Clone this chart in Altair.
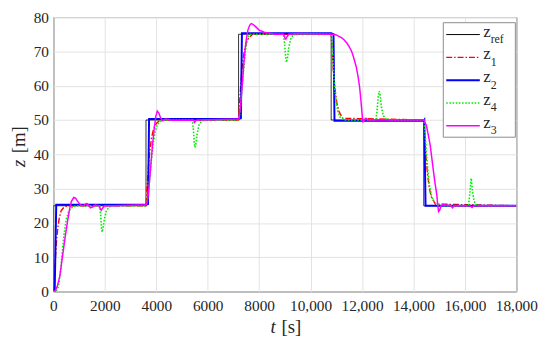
import altair as alt
import pandas as pd

# ---------------- data ----------------
ref_t = [0, 0, 3600, 3600, 7200, 7200, 10800, 10800, 14400, 14400, 18000]
ref_z = [0, 25, 25, 50, 50, 75, 75, 50, 50, 25, 25]

z1_t = [0, 40, 80, 120, 170, 230, 300, 400, 550, 3600, 3640, 3690, 3750, 3820, 3900, 4000, 4150,
        7200, 7240, 7290, 7350, 7420, 7500, 7600, 7750, 10800, 10840, 10890, 10950, 11020, 11100, 11250,
        14400, 14440, 14490, 14550, 14620, 14700, 14850, 18000]
z1_z = [0, 5, 10, 14.5, 18.5, 21.5, 23.5, 24.5, 25, 25, 30, 36, 41, 45, 47.5, 49, 50,
        50, 55, 61, 66, 70, 72.5, 74, 75, 75, 70, 64, 59, 55, 52.5, 50.5,
        50, 45, 39, 34, 30, 27.5, 25.5, 25]

z2_t = [0, 50, 110, 3600, 3680, 3720, 7200, 7290, 7330, 10800, 10890, 10930, 14400, 14420, 14470, 18000]
z2_z = [0, 0, 25.3, 25.3, 25.5, 50.3, 50.3, 50.5, 75.3, 75.3, 75, 49.8, 49.8, 50, 25, 25]

z4_t = [0, 100, 200, 280, 350, 420, 500, 600, 750, 900, 1800, 1840, 1870, 1895, 1930, 1980, 2050, 2150, 2300,
        3600, 3650, 3720, 3800, 3880, 3960, 4050, 4200, 4400, 5400, 5440, 5470, 5500, 5540, 5590, 5660, 5760, 5900,
        7200, 7250, 7320, 7400, 7470, 7550, 7650, 8950, 8990, 9030, 9060, 9100, 9150, 9220, 9320, 9450,
        10800, 10840, 10880, 10930, 10990, 11060, 11150, 11300, 12540, 12590, 12630, 12670, 12710, 12760, 12830, 12950, 13100,
        14400, 14440, 14490, 14550, 14620, 14700, 14800, 14950, 15100, 16140, 16190, 16245, 16300, 16360, 16450, 16600, 18000]
z4_z = [0, 0, 1.5, 6, 12, 17, 21, 23.5, 24.7, 25, 25, 22, 18.5, 17.3, 18.5, 21, 23.3, 24.6, 25,
        25, 26.5, 31, 37.5, 43, 46.8, 48.8, 49.8, 50, 50, 47.5, 44, 42, 43, 46, 48.5, 49.7, 50,
        50, 52, 58, 65, 70.5, 74, 75, 75, 72, 68.5, 66.8, 68, 71, 73.5, 74.8, 75,
        75, 72, 66, 60, 55.5, 52.5, 50.8, 50, 50, 53, 57, 58.4, 57, 53.5, 51.2, 50.2, 50,
        50, 47.5, 42, 36, 31, 28, 26, 25.2, 25, 25, 28.5, 33, 29, 26.3, 25.2, 25, 25]

z3_t = [0, 80, 150, 250, 350, 450, 550, 630, 700, 790, 860, 950, 1050, 1150, 1250, 1310, 1370, 1440, 1520, 1620,
        1760, 1820, 1860, 1900, 1980, 2300, 3600,
        3650, 3700, 3780, 3850, 3920, 3980, 4040, 4100, 4170, 4250, 4350, 4450, 4600, 5450, 5490, 5540, 5600,
        7200, 7260, 7330, 7430, 7500, 7563, 7630, 7690, 7760, 7850, 8000, 8200, 8400, 8600, 8950, 9000, 9040, 9080, 9150, 9500,
        10800, 10900, 11000, 11100, 11200, 11300, 11400, 11500, 11586, 11650, 11720, 11778, 11850, 11905, 11960, 12008, 12040,
        12080, 12150, 12250, 14400,
        14500, 14580, 14651, 14720, 14778, 14840, 14904, 14940, 14975, 15010, 15070, 15150, 15250, 15450, 15520, 15580,
        16200, 16280, 16340, 18000]
z3_z = [0, 0.3, 1.5, 4.5, 10, 15.5, 20.5, 24, 26.3, 27.4, 27.2, 26.2, 25.2, 25, 25.5, 25.6, 25.1, 24.4, 24.6, 25.2,
        25, 24.2, 23.7, 24.2, 25, 25, 25.3,
        26, 29, 36, 42.5, 47.5, 51, 52.6, 52, 50.6, 49.8, 50.3, 50.2, 49.9, 50, 49.3, 49.9, 50,
        50.3, 53, 59, 69, 73.5, 76.2, 77.6, 78.1, 77.9, 77.3, 76.2, 75.6, 75.3, 75, 75, 74, 73.6, 74.2, 75, 75.2,
        75, 75, 74.8, 74.4, 74, 73.4, 72.5, 71.4, 70.2, 68.8, 67, 65.4, 62.5, 59.7, 55.5, 51.2, 49.5,
        49.8, 50.5, 50, 50,
        48.5, 45.5, 42.6, 38.5, 35, 31.5, 28.4, 25.5, 23.3, 23.6, 24.8, 25.4, 25.2, 25, 24.4, 25,
        25, 24.5, 25, 25]

x_ticks = [0, 2000, 4000, 6000, 8000, 10000, 12000, 14000, 16000, 18000]
y_ticks = [0, 10, 20, 30, 40, 50, 60, 70, 80]

# name, legend sub-label, t, z, color, dash, width  (drawing order)
series = [
    ("ref", "ref", ref_t, ref_z, "#000000", [], 0.8),
    ("z1", "1", z1_t, z1_z, "#ff0000", [6, 2, 1.5, 2], 1.4),
    ("z2", "2", z2_t, z2_z, "#0000ff", [], 2.0),
    ("z4", "4", z4_t, z4_z, "#00ee00", [1.6, 1.6], 1.6),
    ("z3", "3", z3_t, z3_z, "#ff00ff", [], 1.5),
]

SERIF = "Liberation Serif"
TXT = "#262626"

x_enc = alt.X("t:Q", scale=alt.Scale(domain=[0, 18000], nice=False, zero=False),
              axis=alt.Axis(values=x_ticks, title=None, labelPadding=7, labelOverlap=False,
                            labelFlush=False, labelFont=SERIF, labelFontSize=15.5, labelColor=TXT,
                            labelExpr="datum.value >= 10000 ? format(datum.value, ',') : format(datum.value, 'd')"))
y_enc = alt.Y("z:Q", scale=alt.Scale(domain=[0, 80], nice=False),
              axis=alt.Axis(values=y_ticks, title=None, labelPadding=5, labelOverlap=False,
                            labelFlush=False, labelFont=SERIF, labelFontSize=15.5, labelColor=TXT))

layers = []
for name, sub, t, z, col, dash, w in series:
    df = pd.DataFrame({"t": t, "z": z, "i": range(len(t))})
    mk = dict(color=col, strokeWidth=w, clip=True)
    if dash:
        mk["strokeDash"] = dash
    layers.append(alt.Chart(df).mark_line(**mk).encode(x=x_enc, y=y_enc, order="i:Q"))

one = pd.DataFrame({"a": [0]})

# legend box
layers.append(alt.Chart(one).mark_rect(fill="white", stroke="#8c8c8c", strokeWidth=1).encode(
    x=alt.value(395), x2=alt.value(468), y=alt.value(5.7), y2=alt.value(121.7)))
ly0, dly = 17.7, 23.1
for k, (name, sub, t, z, col, dash, w) in enumerate(series):
    yy = ly0 + k * dly
    mk = dict(color=col, strokeWidth=max(w, 1.0))
    if dash:
        mk["strokeDash"] = dash
    layers.append(alt.Chart(one).mark_rule(**mk).encode(
        x=alt.value(398), x2=alt.value(432), y=alt.value(yy)))
    layers.append(alt.Chart(one).mark_text(font=SERIF, fontSize=17, color=TXT, align="left",
                                           baseline="alphabetic").encode(
        x=alt.value(435.5), y=alt.value(yy + 2), text=alt.value("z")))
    layers.append(alt.Chart(one).mark_text(font=SERIF, fontSize=12, color=TXT, align="left",
                                           baseline="alphabetic").encode(
        x=alt.value(443), y=alt.value(yy + 8.5), text=alt.value(sub)))

# axis titles
layers.append(alt.Chart(one).mark_text(font=SERIF, fontSize=19, fontStyle="italic", color=TXT,
                                       align="center", baseline="alphabetic").encode(
    x=alt.value(222.7), y=alt.value(320), text=alt.value("t")))
layers.append(alt.Chart(one).mark_text(font=SERIF, fontSize=19, color=TXT,
                                       align="left", baseline="alphabetic").encode(
    x=alt.value(231), y=alt.value(320), text=alt.value("[s]")))
layers.append(alt.Chart(one).mark_text(font=SERIF, fontSize=19, fontStyle="italic", color=TXT,
                                       align="center", baseline="alphabetic", angle=270).encode(
    x=alt.value(-29), y=alt.value(148.3), text=alt.value("z")))
layers.append(alt.Chart(one).mark_text(font=SERIF, fontSize=19, color=TXT,
                                       align="left", baseline="alphabetic", angle=270).encode(
    x=alt.value(-29), y=alt.value(138), text=alt.value("[m]")))

chart = alt.layer(*layers).properties(
    width=469, height=278,
    autosize=alt.AutoSizeParams(type="none"),
    padding={"left": 46, "top": 7, "right": 26, "bottom": 52},
).configure_view(
    stroke="#3a3a3a", strokeWidth=1
).configure_axis(
    labelFont=SERIF, labelFontSize=15.5, labelColor=TXT,
    gridColor="#e3e3e3", gridWidth=1, ticks=False, domain=False,
)

chart.save("out.html", embed_options={"renderer": "svg", "actions": False})
